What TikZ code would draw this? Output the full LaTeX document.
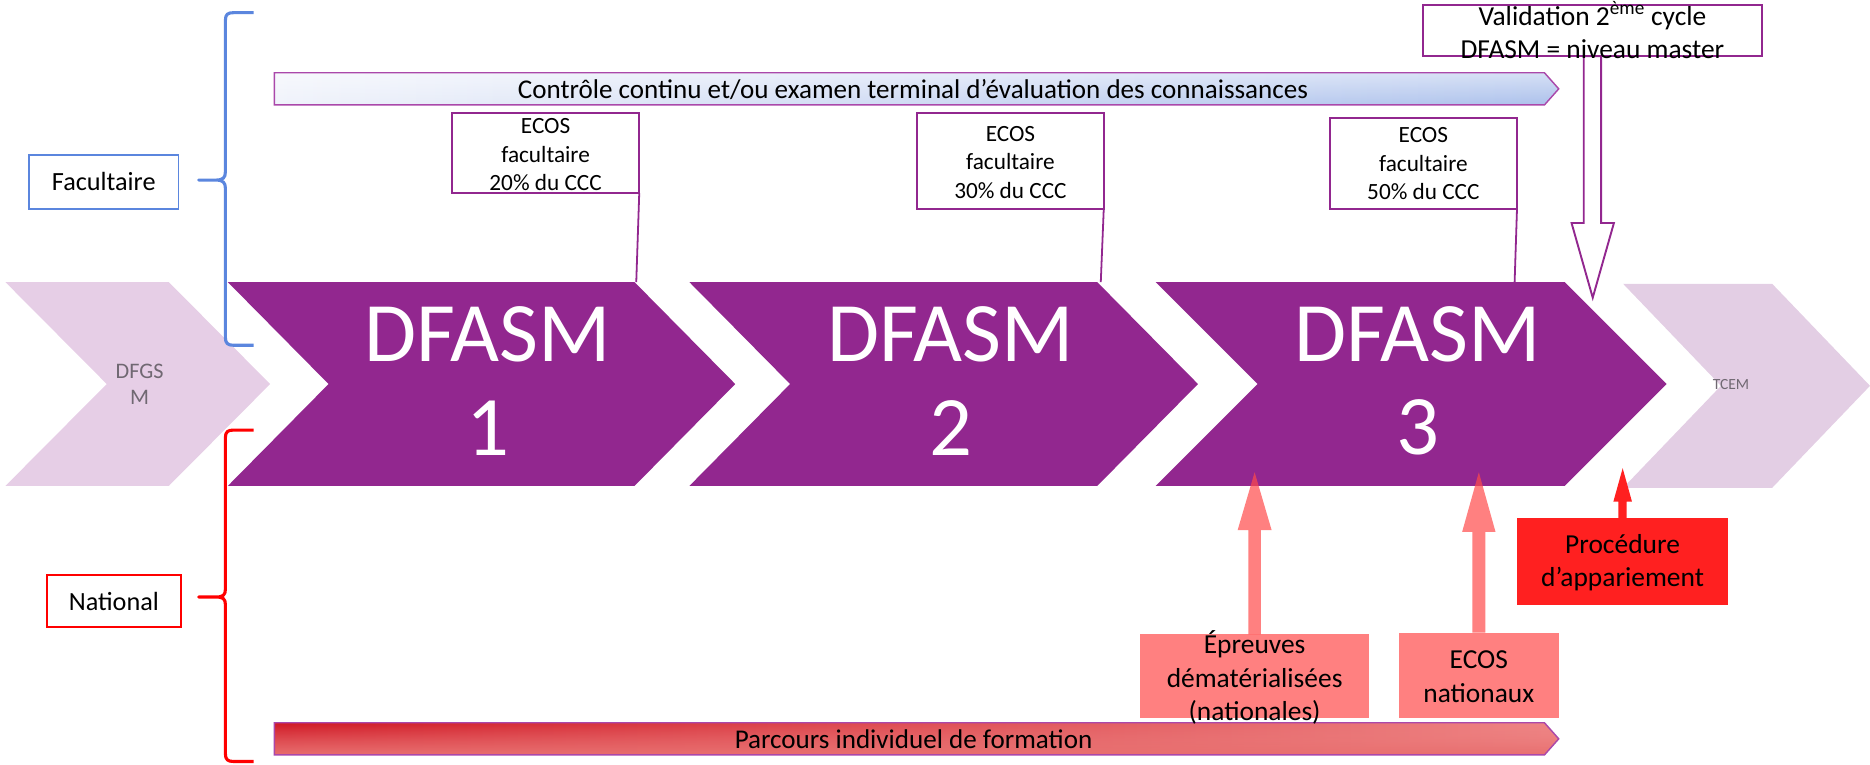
\documentclass[tikz,border=0pt]{standalone}
\usepackage{fontspec}
\setmainfont{Carlito}
\usetikzlibrary{calc,fadings}
\definecolor{pur}{RGB}{146,39,143}
\definecolor{purline}{RGB}{170,72,170}
\definecolor{lpur}{RGB}{230,206,230}
\definecolor{lpurb}{RGB}{227,206,228}
\definecolor{bluebr}{RGB}{91,134,222}
\definecolor{pinkc}{RGB}{255,74,74}
\definecolor{pinkbox}{RGB}{255,128,128}
\definecolor{redc}{RGB}{255,32,32}
\definecolor{redbr}{RGB}{255,0,0}
\definecolor{greyt}{RGB}{112,104,114}
\definecolor{barl}{RGB}{240,243,251}
\definecolor{barr}{RGB}{172,193,236}
\definecolor{rdark}{RGB}{208,24,36}
\definecolor{rsalm}{RGB}{238,132,132}
\definecolor{rbot}{RGB}{232,110,110}
\tikzfading[name=topfade, top color=transparent!0, middle color=transparent!75, bottom color=transparent!100]
\newcommand\chevron[6]{\fill[#1] (#2,#3) -- ({#2+#5},#3) -- ({#2+#5+#6},{(#3+#4)/2}) -- ({#2+#5},#4) -- (#2,#4) -- ({#2+#6},{(#3+#4)/2}) -- cycle;}
\newcommand\arrowpoly[6]{\path[#1] let \p1=(#2), \p2=(#3) in
  (\x1-#4,\y1) -- (\x1-#4,{\y2-(#6)}) -- (\x2-#5,{\y2-(#6)}) -- (\x2,\y2)
  -- (\x2+#5,{\y2-(#6)}) -- (\x1+#4,{\y2-(#6)}) -- (\x1+#4,\y1) -- cycle;}
\newcommand\topbarpath{(230,61) -- (1295,61) -- (1307,74.5) -- (1295,88) -- (230,88) -- cycle}
\newcommand\botbarpath{(230,606) -- (1295,606) -- (1307,619.5) -- (1295,633) -- (230,633) -- cycle}
\begin{document}
\begin{tikzpicture}[x=1pt,y=-1pt,
  every node/.style={inner sep=0pt, outer sep=0pt},
  darkchev/.style={fill=pur},
  lightchev/.style={fill=lpur},
  lightchevb/.style={fill=lpurb},
  bigtxt/.style={text=white, align=center, font=\fontsize{71}{78.2}\selectfont},
  greytxt/.style={text=greyt, align=center},
  ecosbox/.style={draw=pur, line width=1.8pt},
  ecostxt/.style={align=center, font=\fontsize{19.5}{24}\selectfont},
  callout/.style={draw=pur, line width=1.5pt},
  midtxt/.style={align=center, font=\fontsize{23}{28}\selectfont},
  bartxt/.style={font=\fontsize{22.7}{27}\selectfont},
  lbltxt/.style={font=\fontsize{22}{26}\selectfont},
  bracestyle/.style={line width=2.6pt, line join=round},
]
\useasboundingbox (0,0) rectangle (1568,641);

% validation box and hollow arrow
\node[draw=pur, line width=1.8pt, minimum width=284.5pt, minimum height=43pt] (val) at (1335.25,25.5) {};
\coordinate (vtip) at (1335.5,249.6);
\arrowpoly{draw=pur, fill=white, line width=1.6pt}{val.south}{vtip}{7.3pt}{17.75pt}{-62.6pt}

% chevrons
\chevron{lightchev}{4.5}{236.5}{407.5}{137}{85}
\chevron{darkchev}{191}{236.5}{407.5}{341}{84.5}
\chevron{darkchev}{578}{236.5}{407.5}{342}{84.5}
\chevron{darkchev}{969}{236.5}{407.5}{343}{85.5}
\chevron{lightchevb}{1361}{238}{409}{125}{82}
\node[greytxt, font=\fontsize{18.6}{22}\selectfont] (dfgsm) at (117,322) {DFGS\\M};
\node[bigtxt] (d1) at (409,319.5) {DFASM\\1};
\node[bigtxt] (d2) at (797,319.5) {DFASM\\2};
\node[bigtxt] (d3) at (1189,319.5) {DFASM\\3};
\node[greytxt, font=\fontsize{13}{15}\selectfont] (tcem) at (1451.5,322.5) {TCEM};
\coordinate (c1) at (533.5,236.5);
\coordinate (c2) at (923,236.5);
\coordinate (c3) at (1270,236.5);

% top bar
\shade[left color=barl, right color=barr] \topbarpath;
\fill[white, opacity=0.5, path fading=topfade] \topbarpath;
\draw[purline, line width=1.2pt] \topbarpath;
\node[bartxt] (ctrl) at (765.5,75) {Contrôle continu et/ou examen terminal d’évaluation des connaissances};

% bottom bar
\shade[top color=rsalm, bottom color=rbot] \botbarpath;
\shade[left color=rdark, right color=rsalm, path fading=topfade] \botbarpath;
\draw[purline, line width=1.2pt] \botbarpath;
\node[bartxt] (parc) at (766,620) {Parcours individuel de formation};

% ECOS facultaire boxes
\node[ecosbox, minimum width=157pt, minimum height=67.5pt] (e1) at (457.5,128.25) {};
\node[ecostxt] (e1t) at (457.5,129.7) {ECOS\\facultaire\\20\% du CCC};
\draw[callout] (e1.south east) -- (c1);
\node[ecosbox, minimum width=156.5pt, minimum height=80pt] (e2) at (847.25,135) {};
\node[ecostxt] (e2t) at (847.25,136) {ECOS\\facultaire\\30\% du CCC};
\draw[callout] (e2.south east) -- (c2);
\node[ecosbox, minimum width=157pt, minimum height=76pt] (e3) at (1193.5,137) {};
\node[ecostxt] (e3t) at (1193.5,137.4) {ECOS\\facultaire\\50\% du CCC};
\draw[callout] (e3.south east) -- (c3);

% national boxes and arrows
\node[fill=pinkbox, minimum width=192pt, minimum height=70pt] (ep) at (1052,567) {};
\node[midtxt] (ept) at (1052,568.3) {Épreuves\\dématérialisées\\(nationales)};
\node[fill=pinkbox, minimum width=134pt, minimum height=71.5pt] (en) at (1240,566.25) {};
\node[midtxt] (ent) at (1240,567.4) {ECOS\\nationaux};
\node[fill=redc, minimum width=177pt, minimum height=72.5pt] (pr) at (1360.5,470.75) {};
\node[midtxt] (prt) at (1360.5,472) {Procédure\\d’appariement};
\coordinate (t1) at (1052,396);
\coordinate (t2) at (1240,396);
\coordinate (t3) at (1360.6,392.6);
\arrowpoly{fill=pinkc, opacity=0.7}{ep.north}{t1}{5.25pt}{14.25pt}{48.5pt}
\arrowpoly{fill=pinkc, opacity=0.7}{en.north}{t2}{5.5pt}{14pt}{50pt}
\arrowpoly{fill=redc}{pr.north}{t3}{3.5pt}{7.8pt}{28pt}

% braces and labels
\draw[bracestyle, bluebr] (212.6,10.6) -- (196,10.6) .. controls (191,10.6) and (189,12) .. (189,17)
  -- (189,144) .. controls (189,149) and (187,151) .. (181,151) -- (166.6,151)
  -- (181,151) .. controls (187,151) and (189,153) .. (189,158)
  -- (189,283) .. controls (189,288) and (191,289.5) .. (196,289.5) -- (212.6,289.5);
\draw[bracestyle, redbr] (212.6,360.6) -- (196,360.6) .. controls (191,360.6) and (189,362) .. (189,367)
  -- (189,494) .. controls (189,499) and (187,500.6) .. (181,500.6) -- (166.6,500.6)
  -- (181,500.6) .. controls (187,500.6) and (189,502) .. (189,507)
  -- (189,632) .. controls (189,637) and (191,638.5) .. (196,638.5) -- (212.6,638.5);
\node[draw=bluebr, line width=1.6pt, minimum width=125.4pt, minimum height=45pt, lbltxt] (fac) at (87,152.5) {Facultaire};
\node[draw=redbr, line width=1.6pt, minimum width=112.3pt, minimum height=44pt, lbltxt] (nat) at (95.5,504) {National};

% validation text
\node[midtxt] (valt) at (1335.25,25.2) {Validation 2\textsuperscript{ème} cycle\\DFASM = niveau master};
\end{tikzpicture}
\end{document}
